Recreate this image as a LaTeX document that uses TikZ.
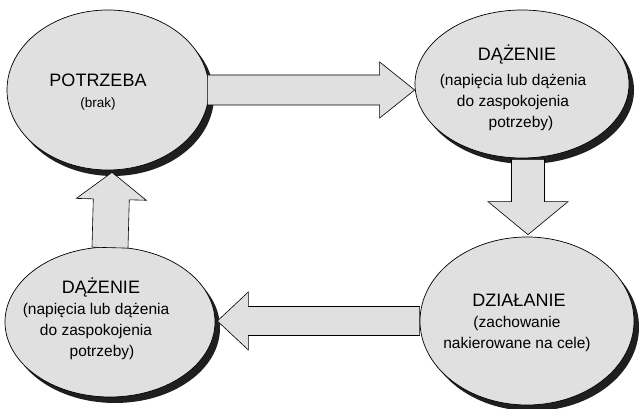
\documentclass[tikz,border=0pt]{standalone}
\usepackage{fontspec}
\setmainfont{Liberation Sans}
\usetikzlibrary{shapes.geometric,calc}

% block arrow: shaft half-width, head half-width, head length (pt), start, tip
\newcommand\blockarrow[5]{%
  \coordinate (hb) at ($(#5)!#3pt!(#4)$);
  \draw[blockarr]
    ($(#4)!#1pt!90:(#5)$) -- ($(hb)!#1pt!-90:(#4)$) -- ($(hb)!#2pt!-90:(#4)$) --
    (#5) -- ($(hb)!#2pt!90:(#4)$) -- ($(hb)!#1pt!90:(#4)$) --
    ($(#4)!#1pt!-90:(#5)$) -- cycle;
}

\tikzset{
  bubble/.style={ellipse, draw=black, line width=0.7pt, fill=paper, inner sep=0pt},
  bubbleshadow/.style={ellipse, fill=black!88, draw=none, inner sep=0pt},
  blockarr/.style={draw=black, line width=0.6pt, fill=paper, line join=miter},
  title/.style={font=\fontsize{18}{21}\selectfont},
  body/.style={align=center, font=\fontsize{15.5}{21}\selectfont},
}
\definecolor{paper}{gray}{0.88}

\begin{document}
\begin{tikzpicture}[x=1pt,y=1pt]
\useasboundingbox (0,0) rectangle (640,409);

% shadows
\node[bubbleshadow, minimum width=202, minimum height=160] at (113,313) {};
\node[bubbleshadow, minimum width=214, minimum height=148] at (527,319) {};
\node[bubbleshadow, minimum width=214, minimum height=168] at (532,82) {};
\node[bubbleshadow, minimum width=210, minimum height=150] at (115,81) {};

% ellipses
\node[bubble, minimum width=202, minimum height=160] (e1) at (108,319) {};
\node[bubble, minimum width=214, minimum height=148] (e2) at (522,325) {};
\node[bubble, minimum width=214, minimum height=168] (e3) at (527,88) {};
\node[bubble, minimum width=210, minimum height=150] (e4) at (110,87) {};

% texts
\node[title] (t1) at (98,329) {POTRZEBA};
\node[font=\fontsize{13.5}{16}\selectfont] (b1) at (98,305) {(brak)};

\node[title] (t2) at (517,354) {DĄŻENIE};
\node[body, anchor=north] (b2) at (513,338)
  {(napięcia lub dążenia\\do zaspokojenia\\\hspace*{16pt}potrzeby)};

\node[title] (t3) at (519,109) {DZIAŁANIE};
\node[body, anchor=north] (b3) at (517,96)
  {(zachowanie\\nakierowane na cele)};

\node[title] (t4) at (101,121) {DĄŻENIE};
\node[body, anchor=north] (b4) at (96,109)
  {(napięcia lub dążenia\\do zaspokojenia\\\hspace*{12pt}potrzeby)};

% connecting block arrows
\coordinate (a1s) at ($(e1.east)+(-2,0)$);
\coordinate (a1e) at (e2.west |- e1.east);
\blockarrow{15}{28}{35}{a1s}{a1e}

\coordinate (a2s) at ($(e3.north |- e2.south)+(1,-1)$);
\coordinate (a2e) at ($(e3.north)+(1,2)$);
\blockarrow{16.5}{40}{33}{a2s}{a2e}

\coordinate (a3s) at (e3.west);
\coordinate (a3e) at ($(e4.east |- e3.west)+(2,0)$);
\blockarrow{14.5}{29}{31}{a3s}{a3e}

\coordinate (a4s) at ($(e4.north)+(0,-1)$);
\coordinate (a4e) at ($(e4.north |- e1.south)+(2,-2)$);
\blockarrow{18}{35}{27}{a4s}{a4e}
\end{tikzpicture}
\end{document}
